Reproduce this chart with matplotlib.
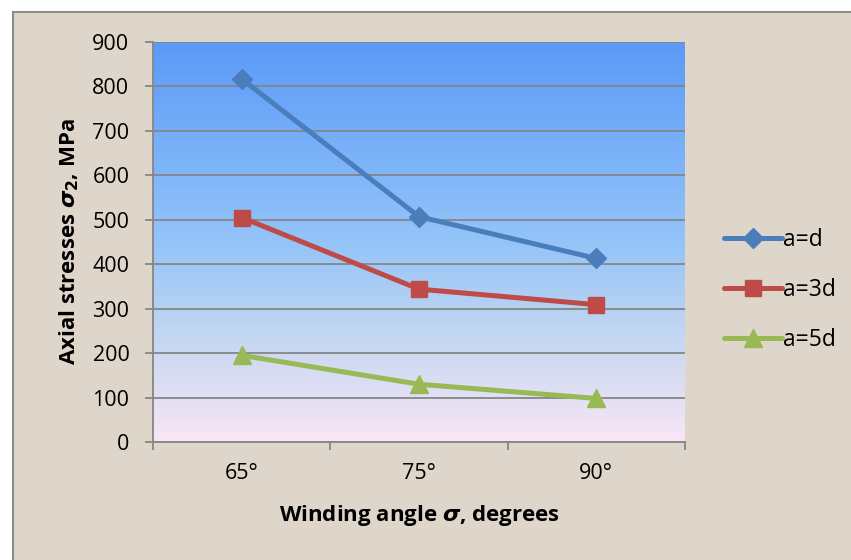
import numpy as np
import matplotlib as mpl
mpl.use('Agg')
import matplotlib.pyplot as plt
from matplotlib.colors import LinearSegmentedColormap
from matplotlib.patches import Rectangle

#
#--- chart data
#
angles = ['65°', '75°', '90°']
series_names = ['a=d', 'a=3d', 'a=5d']
stress_ad = [817, 507, 413]
stress_a3d = [505, 344, 309]
stress_a5d = [195, 130, 98]
y_ticks = [0, 100, 200, 300, 400, 500, 600, 700, 800, 900]

#
#--- styles
#
colors = ['#4A7EBB', '#BE4B48', '#98B954']
markers = ['D', 's', '^']
msizes = [10, 12, 13]
fsize = 15.5
lsize = 16
gsize = 16.5

plt.rcParams['font.family'] = ['Open Sans', 'DejaVu Sans']
plt.rcParams['mathtext.fontset'] = 'custom'
plt.rcParams['mathtext.it'] = 'DejaVu Sans:italic:bold'
plt.rcParams['mathtext.rm'] = 'DejaVu Sans:bold'
plt.rcParams['mathtext.bf'] = 'DejaVu Sans:bold'

fig = plt.figure(figsize=(8.51, 5.6), dpi=100)
fig.patch.set_facecolor('white')

#
#--- beige chart area with grey frame
#
frame = Rectangle((13 / 851, -0.01), 1.0, 548 / 560 + 0.01, transform=fig.transFigure,
                  facecolor='#DED6CA', edgecolor='#8C8C8C', lw=1.5, zorder=-10)
fig.patches.append(frame)

ax = fig.add_axes([153 / 851, 118 / 560, 532 / 851, 400 / 560])
ax.set_facecolor('none')

#
#--- vertical gradient of plot area
#
cmap = LinearSegmentedColormap.from_list('bg', [(0.0, '#F9E6F6'), (0.25, '#C6D8F1'),
                                                 (0.5, '#94C4F8'), (1.0, '#5A9AF9')])
grad = np.linspace(0, 1, 256).reshape(-1, 1)
ax.imshow(grad, aspect='auto', cmap=cmap, origin='lower', extent=[0, 1, 0, 1],
          transform=ax.transAxes, zorder=0)

x = np.arange(len(angles))
all_series = [stress_ad, stress_a3d, stress_a5d]
for data, name, col, mk, ms in zip(all_series, series_names, colors, markers, msizes):
    ax.plot(x, data, color=col, lw=3.6, marker=mk, markersize=ms, label=name,
            zorder=3, solid_capstyle='round')

ax.set_xlim(-0.5, len(angles) - 0.5)
ax.set_ylim(0, 900)
ax.set_yticks(y_ticks)
ax.yaxis.grid(True, color='#868686', lw=1.3, zorder=1)
ax.set_axisbelow(False)
for ln in ax.get_ygridlines():
    ln.set_zorder(1)

ax.set_xticks(np.arange(-0.5, len(angles), 1.0))
ax.set_xticklabels([])
ax.set_xticks(x, minor=True)
ax.set_xticklabels(angles, minor=True)
ax.tick_params(axis='x', which='minor', length=0, labelsize=fsize, pad=15)
ax.tick_params(axis='x', which='major', length=6, color='#868686', width=1.3)
ax.tick_params(axis='y', length=6, color='#868686', width=1.3, labelsize=fsize, pad=11)

for s in ['top', 'right']:
    ax.spines[s].set_visible(False)
for s in ['left', 'bottom']:
    ax.spines[s].set_color('#868686')
    ax.spines[s].set_linewidth(1.3)

ax.set_xlabel(r'Winding angle $\sigma$, degrees', fontsize=lsize, fontweight='bold', labelpad=14)
ax.set_ylabel(r'Axial stresses $\sigma_2$, MPa', fontsize=lsize, fontweight='bold', labelpad=8)

leg = ax.legend(loc='center left', bbox_to_anchor=(1.035, 0.38), frameon=False,
                fontsize=gsize, handlelength=2.5, handletextpad=0.05, labelspacing=1.15)

fig.savefig('out.png', dpi=100)
